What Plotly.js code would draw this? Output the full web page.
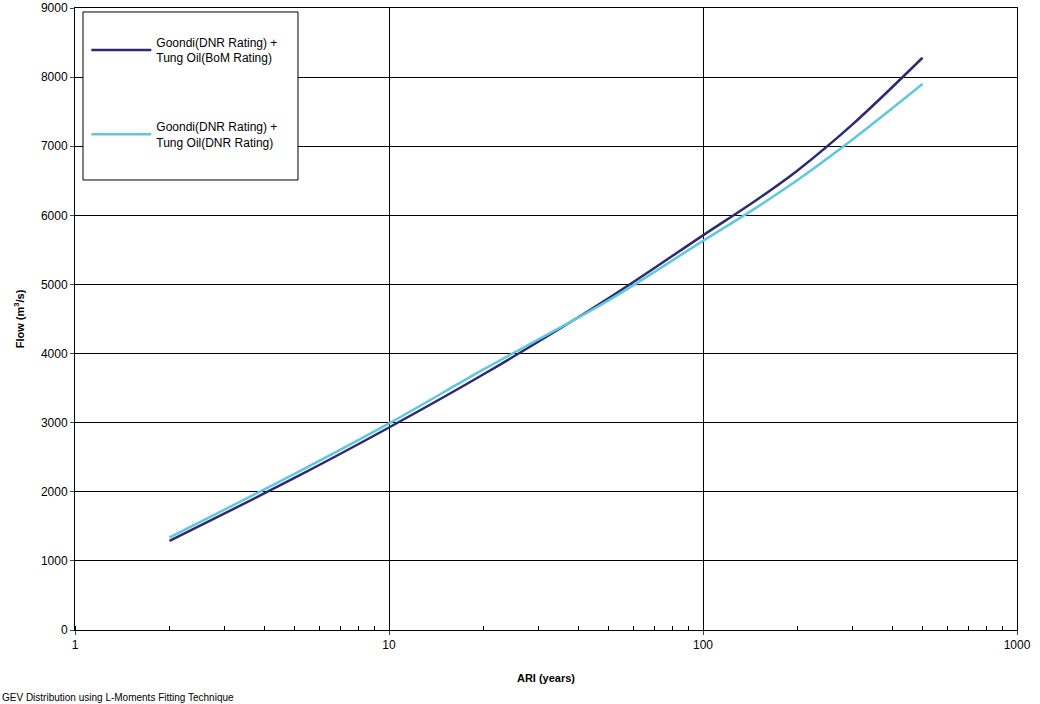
<!DOCTYPE html>
<html>
<head>
<meta charset="utf-8">
<script src="https://cdn.plot.ly/plotly-3.0.1.min.js"></script>
<style>body{margin:0;background:#fff}</style>
</head>
<body>
<div id="chart" style="width:1040px;height:704px"></div>
<script>
var ari = [2, 5, 10, 20, 50, 100, 150, 200, 300, 500];
var bomRating = [1290, 2200, 2930, 3700, 4800, 5710, 6240, 6650, 7320, 8280];
var dnrRating = [1340, 2260, 2990, 3770, 4770, 5630, 6130, 6510, 7100, 7900];
var seriesNames = ["Goondi(DNR Rating) +<br>Tung Oil(BoM Rating)", "Goondi(DNR Rating) +<br>Tung Oil(DNR Rating)"];

var traces = [
  {x: ari, y: bomRating, mode: "lines", name: seriesNames[0], line: {color: "#2b2a72", width: 2.5, shape: "spline", smoothing: 1}, legendgroup: "a"},
  {x: ari, y: dnrRating, mode: "lines", name: seriesNames[1], line: {color: "#5fc8dc", width: 2.5, shape: "spline", smoothing: 1}, legendgroup: "b"}
];

var layout = {
  width: 1040, height: 704,
  margin: {l: 75, r: 23, t: 8, b: 74},
  paper_bgcolor: "#fff", plot_bgcolor: "#fff",
  font: {family: "Liberation Sans, Arial, sans-serif", size: 12, color: "#000"},
  xaxis: {
    type: "log", range: [0, 3], showline: true, linecolor: "#000", mirror: true,
    showgrid: true, gridcolor: "#000", gridwidth: 1,
    tickvals: [1, 10, 100, 1000], ticktext: ["1", "10", "100", "1000"],
    ticks: "outside", ticklen: 4,
    minor: {ticks: "inside", ticklen: 4, tickcolor: "#000", showgrid: false, dtick: "D1"},
    zeroline: false,
    title: {text: "<b>ARI (years)</b>", font: {size: 11}, standoff: 22}
  },
  yaxis: {
    range: [0, 9000], dtick: 1000, showline: true, linecolor: "#000", mirror: true,
    showgrid: true, gridcolor: "#000", gridwidth: 1, ticks: "outside", ticklen: 4,
    zeroline: false,
    title: {text: "<b>Flow (m<sup>3</sup>/s)</b>", font: {size: 11}, standoff: 14}
  },
  shapes: [{type: "rect", xref: "paper", yref: "paper", x0: 0.0085, x1: 0.2367, y0: 0.7235, y1: 0.9936,
    line: {color: "#000", width: 1}, fillcolor: "#fff", layer: "above"}],
  showlegend: true,
  legend: {x: 0.012, y: 0.968, xanchor: "left", yanchor: "top", bgcolor: "rgba(0,0,0,0)",
    borderwidth: 0, font: {size: 12}, tracegroupgap: 50, itemwidth: 60},
  annotations: [{text: "GEV Distribution using L-Moments Fitting Technique", xref: "paper", yref: "paper",
    x: -0.08, y: -0.108, xanchor: "left", yanchor: "middle", showarrow: false, font: {size: 10}}]
};

Plotly.newPlot("chart", traces, layout, {displayModeBar: false});
</script>
</body>
</html>
